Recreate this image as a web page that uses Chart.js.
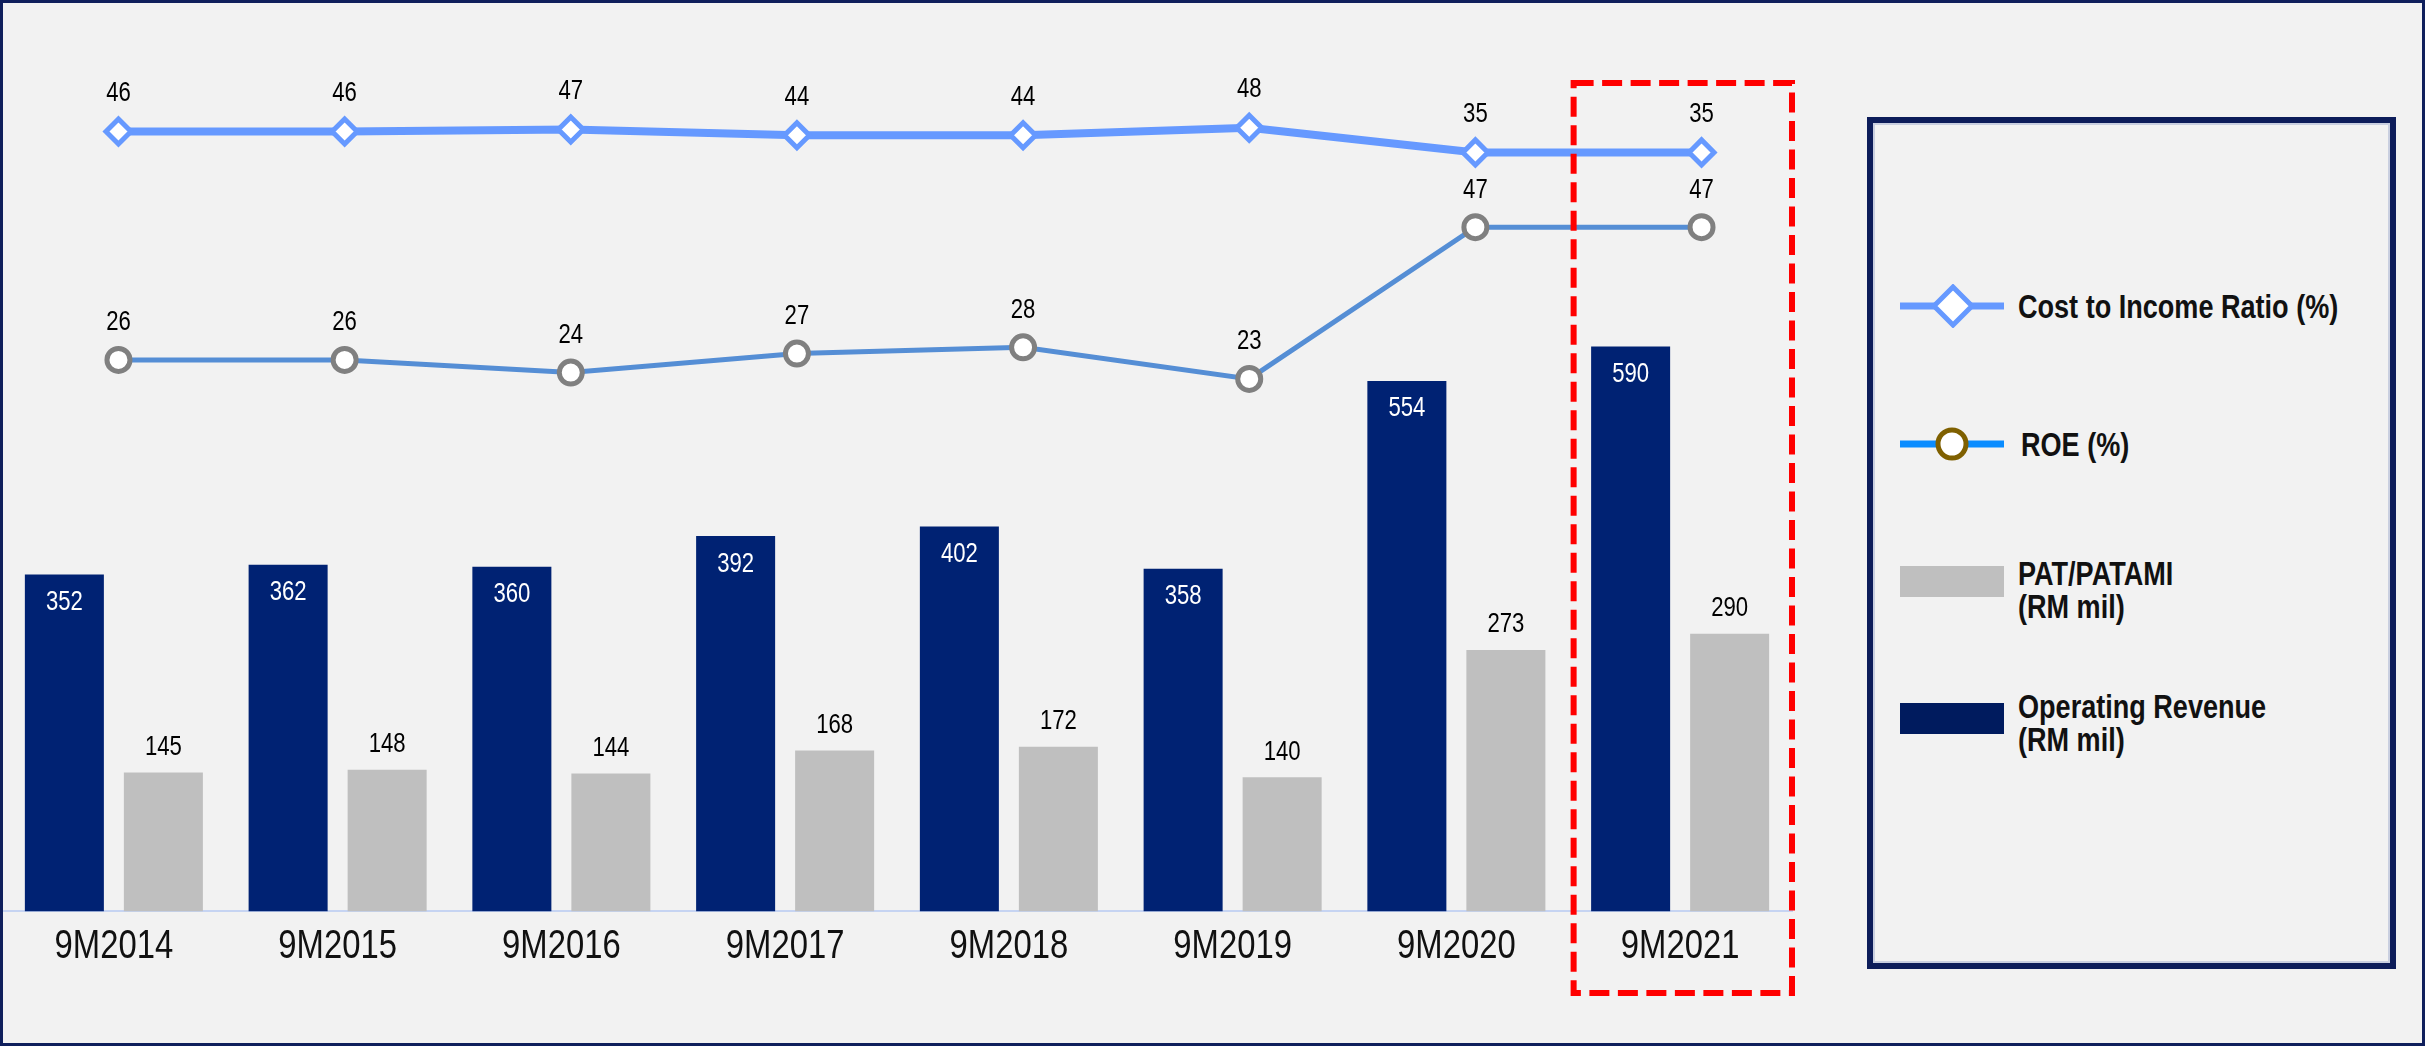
<!DOCTYPE html>
<html>
<head>
<meta charset="utf-8">
<title>Financial Highlights 9M2014 - 9M2021</title>
<script src="https://cdn.jsdelivr.net/npm/chart.js@4.4.1/dist/chart.umd.min.js"></script>
<style>
  html, body { margin: 0; padding: 0; background: #f2f2f2; }
  .page { position: relative; width: 2425px; height: 1046px; overflow: hidden; background: #f2f2f2; font-family: "Liberation Sans", Arial, sans-serif; }
  .frame { position: absolute; inset: 0; border: 3px solid #0f1f5c; pointer-events: none; }
  .chart-box { position: absolute; left: 0; top: 0; width: 1800px; height: 1046px; }
  .legend-box { position: absolute; left: 1867px; top: 117px; width: 529px; height: 852px; box-sizing: border-box; border: 6px solid #0d1d5a; box-shadow: inset 0 0 0 2px #c9cfe0; }
  .legend-icon { position: absolute; left: 1900px; }
  .legend-text { position: absolute; font-weight: bold; font-size: 33px; line-height: 33px; color: #111; white-space: nowrap; transform: scaleX(0.82); transform-origin: left center; }
</style>
</head>
<body>
<div class="page">
  <div class="chart-box"><canvas id="chartHighlights"></canvas></div>

  <!-- 범례 -->
  <div class="legend-box"></div>
  <svg class="legend-icon" style="top:284px" width="104" height="44">
    <line x1="0" y1="22" x2="104" y2="22" stroke="#6699ff" stroke-width="7"/>
    <polygon points="53,3 72,22 53,41 34,22" fill="#fff" stroke="#6699ff" stroke-width="5"/>
  </svg>
  <div class="legend-text" style="left:2018px; top:290px">Cost to Income Ratio (%)</div>
  <svg class="legend-icon" style="top:422px" width="104" height="44">
    <line x1="0" y1="22" x2="104" y2="22" stroke="#0a8cff" stroke-width="7"/>
    <circle cx="52" cy="22" r="14" fill="#fff" stroke="#7f6000" stroke-width="5"/>
  </svg>
  <div class="legend-text" style="left:2021px; top:428px">ROE (%)</div>
  <svg class="legend-icon" style="top:566px" width="104" height="31"><rect x="0" y="0" width="104" height="31" fill="#bfbfbf"/></svg>
  <div class="legend-text" style="left:2018px; top:557px">PAT/PATAMI<br>(RM mil)</div>
  <svg class="legend-icon" style="top:703px" width="104" height="31"><rect x="0" y="0" width="104" height="31" fill="#001b5e"/></svg>
  <div class="legend-text" style="left:2018px; top:690px">Operating Revenue<br>(RM mil)</div>

  <div class="frame"></div>
</div>
<script>
// 데이터
const labels = ['9M2014', '9M2015', '9M2016', '9M2017', '9M2018', '9M2019', '9M2020', '9M2021'];
const operatingRevenue = [352, 362, 360, 392, 402, 358, 554, 590];
const patPatami = [145, 148, 144, 168, 172, 140, 273, 290];
const costToIncome = [46, 46, 47, 44, 44, 48, 35, 35];
const roe = [26, 26, 24, 27, 28, 23, 47, 47];
const highlightLabel = '9M2021';

// 좁은 글꼴 흉내 (Arial Narrow 비율)
function drawNarrowText(ctx, text, x, y, size, color) {
    ctx.save();
    ctx.font = size + 'px "Liberation Sans", Arial, sans-serif';
    ctx.fillStyle = color;
    ctx.textAlign = 'center';
    ctx.textBaseline = 'middle';
    ctx.translate(x, y);
    ctx.scale(0.82, 1);
    ctx.fillText(text, 0, 0);
    ctx.restore();
}

// 값 라벨 + x축 라벨
const valueLabelPlugin = {
    id: 'valueLabel',
    afterDatasetsDraw(chart) {
        const ctx = chart.ctx;
        chart.data.datasets.forEach((ds, i) => {
            const meta = chart.getDatasetMeta(i);
            const opt = ds.valueLabel;
            if (!opt || meta.hidden) return;
            meta.data.forEach((el, j) => {
                const raw = ds.data[j];
                const val = typeof raw === 'object' ? raw.y : raw;
                drawNarrowText(ctx, String(val), el.x, el.y + opt.offset, 27, opt.color);
            });
        });
        const xScale = chart.scales.x;
        labels.forEach((l, i) => {
            drawNarrowText(ctx, l, xScale.getPixelForValue(i), chart.chartArea.bottom + 36, 40, '#111');
        });
    }
};

// 강조 박스 (빨간 점선)
const highlightPlugin = {
    id: 'highlight',
    afterDraw(chart) {
        const idx = labels.indexOf(highlightLabel);
        if (idx < 0) return;
        const xScale = chart.scales.x;
        const area = chart.chartArea;
        const left = xScale.getPixelForValue(idx - 0.476);
        const right = xScale.getPixelForValue(idx + 0.5);
        const top = area.top + 38;
        const bottom = chart.height - 53;
        const ctx = chart.ctx;
        ctx.save();
        ctx.strokeStyle = '#ff0000';
        ctx.lineWidth = 6;
        ctx.setLineDash([20, 8.5]);
        ctx.strokeRect(left, top, right - left, bottom - top);
        ctx.restore();
    }
};

function getChart(id) {
    const ctx = document.getElementById(id);
    const data = {
        labels: labels,
        datasets: [
            { type: 'line', label: 'Cost to Income Ratio (%)', data: costToIncome.map((v, i) => ({ x: i, y: v })),
              xAxisID: 'xLine', yAxisID: 'yCir', borderColor: '#6699ff', borderWidth: 8, pointStyle: 'rectRot',
              pointRadius: 12.5, pointBorderWidth: 5, pointBackgroundColor: '#ffffff', pointBorderColor: '#6699ff',
              tension: 0, order: 0, valueLabel: { color: '#000', offset: -38 } },
            { type: 'line', label: 'ROE (%)', data: roe.map((v, i) => ({ x: i, y: v })),
              xAxisID: 'xLine', yAxisID: 'yRoe', borderColor: '#558ed5', borderWidth: 5, pointStyle: 'circle',
              pointRadius: 11.5, pointBorderWidth: 5, pointBackgroundColor: '#ffffff', pointBorderColor: '#808080',
              tension: 0, order: 1, valueLabel: { color: '#000', offset: -37 } },
            { type: 'bar', label: 'Operating Revenue (RM mil)', data: operatingRevenue, xAxisID: 'x', yAxisID: 'yBar',
              backgroundColor: '#002273', categoryPercentage: 1.77, barPercentage: 0.798, order: 2,
              valueLabel: { color: '#fff', offset: 28 } },
            { type: 'bar', label: 'PAT/PATAMI (RM mil)', data: patPatami, xAxisID: 'x', yAxisID: 'yBar',
              backgroundColor: '#bfbfbf', categoryPercentage: 1.77, barPercentage: 0.798, order: 3,
              valueLabel: { color: '#000', offset: -25 } }
        ]
    };
    const options = {
        responsive: true,
        maintainAspectRatio: false,
        animation: false,
        layout: { autoPadding: false, padding: { left: 2, right: 8, top: 45, bottom: 61 } },
        plugins: { legend: { display: false }, tooltip: { enabled: false } },
        scales: {
            x: { type: 'category', offset: true, grid: { display: false, drawTicks: false },
                 border: { display: true, color: '#c6d4f2', width: 2 },
                 ticks: { color: 'rgba(0,0,0,0)', padding: 14, font: { family: '"Liberation Sans", sans-serif', size: 38 } } },
            xLine: { type: 'linear', display: false, offset: false, min: -0.515, max: 7.4 },
            yBar: { display: false, min: 0, max: 905 },
            yCir: { display: false, min: -364.3, max: 91.5 },
            yRoe: { display: false, min: -61.2, max: 75.8 }
        }
    };
    new Chart(ctx, { type: 'bar', data: data, options: options, plugins: [valueLabelPlugin, highlightPlugin] });
}

window.addEventListener('DOMContentLoaded', function() {
    getChart('chartHighlights');
});
</script>
</body>
</html>
